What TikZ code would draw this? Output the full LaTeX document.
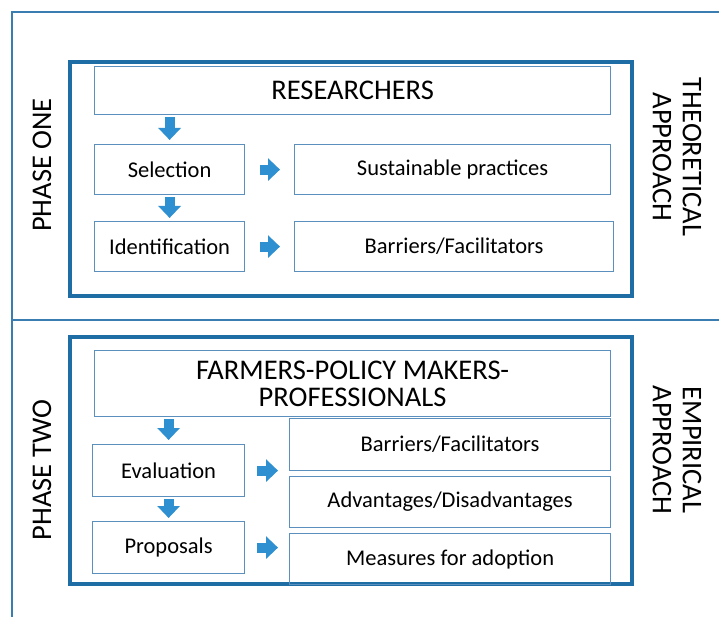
\documentclass[tikz,border=0pt]{standalone}
\usepackage{fontspec}
\setmainfont{Carlito}
\usetikzlibrary{positioning,arrows.meta}
\definecolor{frameblue}{HTML}{1F6DA5}
\definecolor{lineblue}{HTML}{3A7DB0}
\definecolor{boxblue}{HTML}{5A8FBE}
\definecolor{arrowblue}{HTML}{2E90D1}

\begin{document}
\begin{tikzpicture}[
    x=1pt, y=-1pt,
    phase/.style={draw=frameblue, line width=4pt},
    box/.style={rectangle, draw=boxblue, line width=1.2pt, anchor=north west,
                inner sep=0pt, align=center, font=\fontsize{22.5}{26}\selectfont},
    head/.style={box, font=\fontsize{28.5}{27}\selectfont},
    side/.style={font=\fontsize{28.5}{30}\selectfont, align=center},
    fat/.style={-{Triangle[width=22pt, length=12pt]}, line width=10pt, draw=arrowblue}
]
  \useasboundingbox (0,0) rectangle (719,617);

  % Outer frame and phase frames
  \draw[lineblue, line width=1.5pt] (12,617) -- (12,12) -- (719,12);
  \draw[lineblue, line width=1.5pt] (12,320) -- (719,320);
  \draw[phase] (70,62) rectangle (632,296);
  \draw[phase] (70,337) rectangle (632,584);

  % Phase one
  \node[head, minimum width=516, minimum height=48] (res) at (94,66) {RESEARCHERS};
  \node[box, minimum width=150, minimum height=50] (sel) at (94,144) {Selection};
  \node[box, minimum width=316, minimum height=50] (sust) at (294,144) {Sustainable practices};
  \node[box, minimum width=150, minimum height=50] (iden) at (94,221) {Identification};
  \node[box, minimum width=319, minimum height=50] (barone) at (294,221) {Barriers/Facilitators};

  % Phase two
  \node[head, minimum width=516, minimum height=66] (farm) at (94,350) {FARMERS-POLICY MAKERS-\\PROFESSIONALS};
  \node[box, minimum width=152, minimum height=52] (eval) at (92,444) {Evaluation};
  \node[box, minimum width=152, minimum height=52] (prop) at (92,521) {Proposals};
  \node[box, minimum width=321, minimum height=52] (bartwo) at (289,418) {Barriers/Facilitators};
  \node[box, minimum width=321, minimum height=51] (adv) at (289,476) {Advantages/Disadvantages};
  \node[box, minimum width=321, minimum height=51] (meas) at (289,533) {Measures for adoption};

  % Side labels
  \node[side, rotate=90] (pone) at (42,165) {PHASE ONE};
  \node[side, rotate=90] (ptwo) at (42,470) {PHASE TWO};
  \node[side, rotate=-90] (theo) at (677,157) {THEORETICAL\\APPROACH};
  \node[side, rotate=-90] (emp) at (677,450) {EMPIRICAL\\APPROACH};

  % Block arrows
  \draw[fat, shorten <=2pt, shorten >=4pt] (res.south -| sel.center) -- (sel.north);
  \draw[fat, shorten <=2pt, shorten >=3pt] (sel.south) -- (iden.north);
  \draw[fat, shorten <=15pt, shorten >=14pt] (sel.east) -- (sel.east -| sust.west);
  \draw[fat, shorten <=15pt, shorten >=14pt] (iden.east) -- (iden.east -| barone.west);
  \draw[fat, shorten <=2pt, shorten >=4pt] (farm.south -| eval.center) -- (eval.north);
  \draw[fat, shorten <=2pt, shorten >=3pt] (eval.south) -- (prop.north);
  \draw[fat, shorten <=12pt, shorten >=11pt] (eval.east) -- (eval.east -| adv.west);
  \draw[fat, shorten <=12pt, shorten >=11pt] (prop.east) -- (prop.east -| meas.west);
\end{tikzpicture}
\end{document}
